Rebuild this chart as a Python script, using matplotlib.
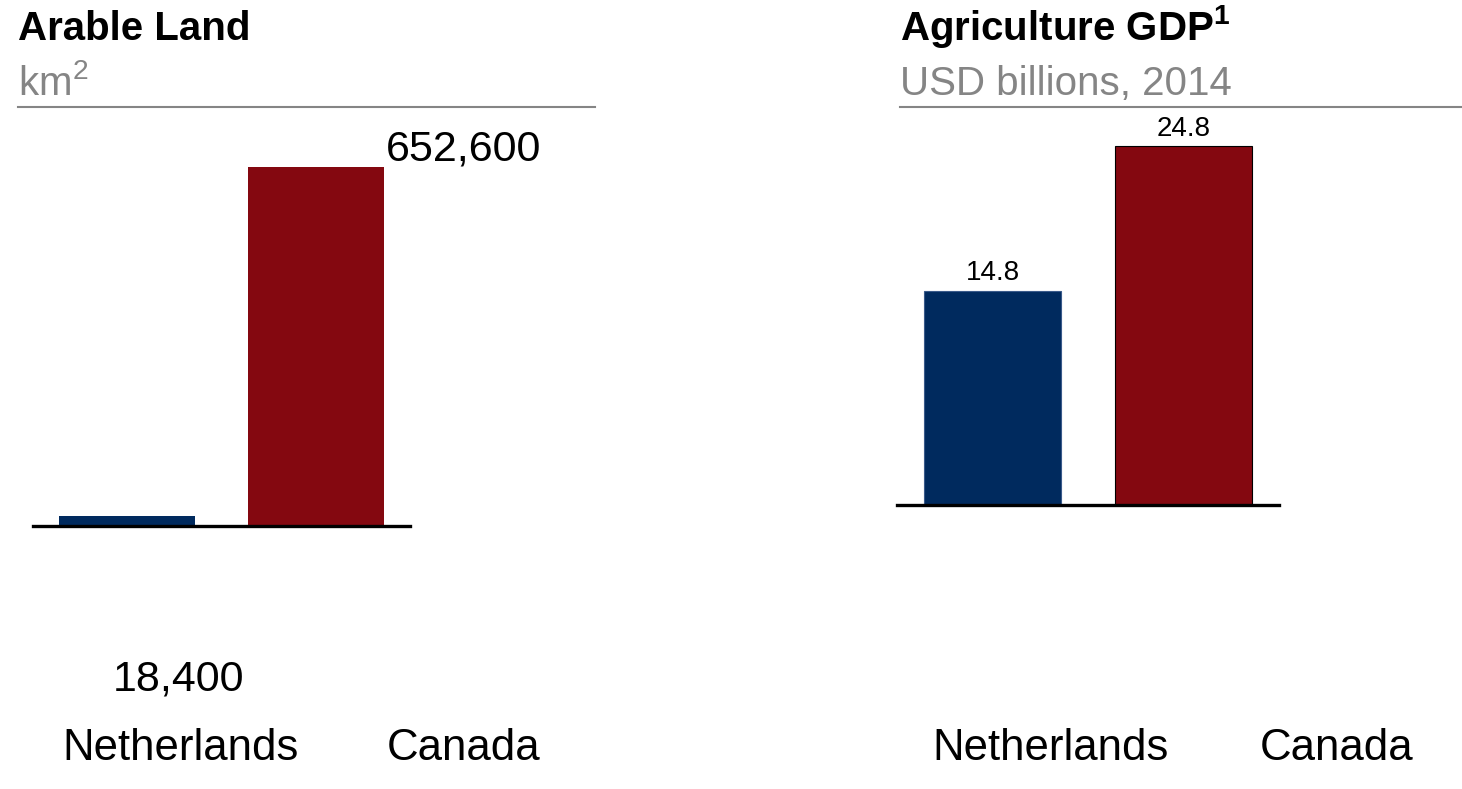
import matplotlib
matplotlib.use("Agg")
from matplotlib import pyplot as plt
from matplotlib.lines import Line2D

plt.rcParams['font.family'] = ['Liberation Sans', 'DejaVu Sans']
plt.rcParams['mathtext.fontset'] = 'custom'
plt.rcParams['mathtext.rm'] = 'Liberation Sans'
plt.rcParams['mathtext.bf'] = 'Liberation Sans:bold'

countries = ['Netherlands', 'Canada']
arable_land = [18400, 652600]
arable_labels = ['18,400', '652,600']
agri_gdp = [14.8, 24.8]
agri_labels = ['14.8', '24.8']

BLUE = '#002A5E'
RED = '#840810'
GRAY = '#858585'

W, H = 1462, 789
fig = plt.figure(figsize=(W / 100, H / 100), dpi=100)


# pixel helpers (origin at top-left like the picture)
def fx(px):
    return px / W


def fy(py):
    return 1 - py / H


def make_axes(x0, x1, y0, y1):
    ax = fig.add_axes([fx(x0), fy(y1), (x1 - x0) / W, (y1 - y0) / H])
    ax.set_axis_off()
    return ax


# left panel: arable land
ax1 = make_axes(33, 410, 107, 526)
ax1.bar([0, 1], arable_land, width=0.72, color=[BLUE, RED], linewidth=0)
ax1.set_xlim(-0.5, 1.5)
ax1.set_ylim(0, arable_land[1] * 419 / 359)
ax1.axhline(0, color='black', lw=2.4, clip_on=False)

# right panel: agriculture GDP
ax2 = make_axes(897, 1279, 107, 505)
ax2.bar([0, 1], agri_gdp, width=0.72, color=[BLUE, RED],
        edgecolor=['#3a5a8a', 'black'], linewidth=0.8)
ax2.set_xlim(-0.5, 1.5)
ax2.set_ylim(0, agri_gdp[1] * 398 / 359)
ax2.axhline(0, color='black', lw=2.4, clip_on=False)
for i, (v, lab) in enumerate(zip(agri_gdp, agri_labels)):
    ax2.annotate(lab, (i, v), xytext=(0, 7.5), textcoords='offset points',
                 ha='center', va='baseline', fontsize=20)

# titles, subtitles and rules
fig.text(fx(18), fy(40), 'Arable Land', fontsize=29, fontweight='bold', va='baseline')
fig.text(fx(18), fy(95), 'km$^{2}$', fontsize=29, color=GRAY, va='baseline')
fig.text(fx(900), fy(40), r'Agriculture GDP$^{\mathbf{1}}$', fontsize=29,
         fontweight='bold', va='baseline')
fig.text(fx(900), fy(95), 'USD billions, 2014', fontsize=29, color=GRAY, va='baseline')
fig.add_artist(Line2D([fx(18), fx(595)], [fy(107), fy(107)], color=GRAY, lw=1.5))
fig.add_artist(Line2D([fx(900), fx(1462)], [fy(107), fy(107)], color=GRAY, lw=1.5))

# arable land value labels sit in odd places in the original
fig.text(fx(386), fy(161), arable_labels[1], fontsize=31, va='baseline')
fig.text(fx(178), fy(690), arable_labels[0], fontsize=31, ha='center', va='baseline')

# category labels
for cx, name in zip([181, 464], countries):
    fig.text(fx(cx), fy(760), name, fontsize=31.5, ha='center', va='baseline')
for cx, name in zip([1051, 1337], countries):
    fig.text(fx(cx), fy(760), name, fontsize=31.5, ha='center', va='baseline')

fig.savefig('out.png', dpi=100)
